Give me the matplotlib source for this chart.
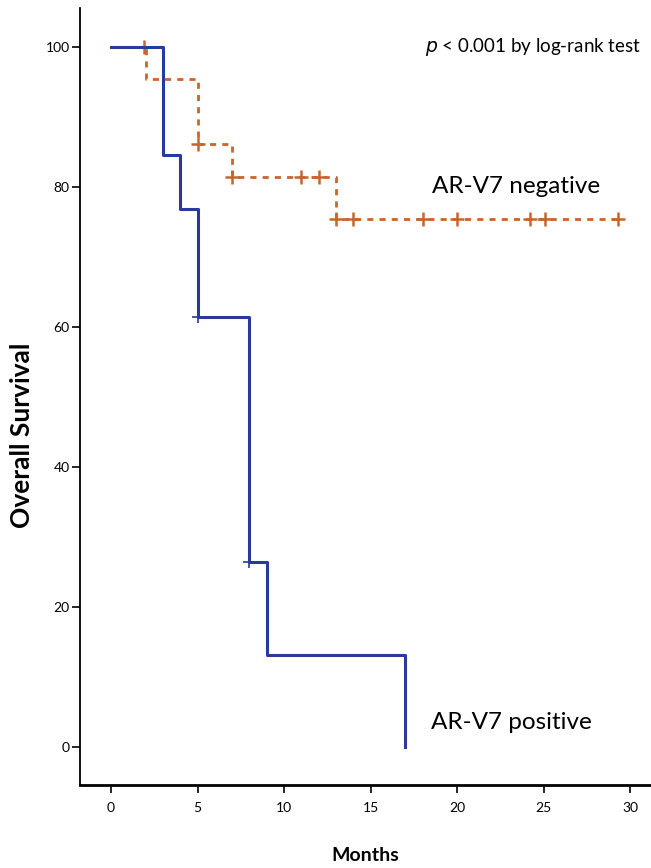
import matplotlib
matplotlib.use('Agg')
import matplotlib.pyplot as plt

plt.rcParams['font.family'] = ['Lato', 'DejaVu Sans']

# AR-V7 positive (Kaplan-Meier steps)
pos_t = [0, 3, 4, 5, 8, 9, 17]
pos_s = [100, 84.6, 76.9, 61.5, 26.4, 13.2, 0]
pos_cens_t = [5, 8]
pos_cens_s = [61.5, 26.4]

# AR-V7 negative
neg_t = [0, 2, 5, 7, 13, 29.3]
neg_s = [100, 95.5, 86.2, 81.4, 75.4, 75.4]
neg_cens_t = [1.9, 5, 7, 11, 12, 13, 14, 18, 20, 24.2, 25.1, 29.3]
neg_cens_s = [100, 86.2, 81.4, 81.4, 81.4, 75.4, 75.4, 75.4, 75.4, 75.4, 75.4, 75.4]

xticks = [0, 5, 10, 15, 20, 25, 30]
yticks = [0, 20, 40, 60, 80, 100]

blue = '#2a3a9c'
orange = '#c8652e'

fig = plt.figure(figsize=(6.51, 8.68), dpi=100)
ax = fig.add_axes([0.123, 0.0956, 0.877, 0.8954])

ax.plot(neg_t, neg_s, drawstyle='steps-post', color=orange, lw=2.0,
        linestyle=(0, (2.2, 2.2)))
ax.plot(neg_cens_t, neg_cens_s, '+', color=orange, ms=10, mew=1.8)
ax.plot(pos_t, pos_s, drawstyle='steps-post', color=blue, lw=2.2)
ax.plot(pos_cens_t, pos_cens_s, '+', color=blue, ms=9, mew=1.2)

ax.set_xlim(-1.79, 31.2)
ax.set_ylim(-5.4, 105.6)
ax.set_xticks(xticks)
ax.set_yticks(yticks)
ax.tick_params(axis='both', direction='out', length=6, width=1.2, labelsize=10)
ax.tick_params(axis='x', pad=6)
ax.tick_params(axis='y', pad=1.5)
for s in ['top', 'right']:
    ax.spines[s].set_visible(False)
ax.spines['left'].set_linewidth(1.3)
ax.spines['bottom'].set_linewidth(2.0)

ax.set_xlabel('Months', fontsize=14, fontweight='bold', labelpad=24)
ax.set_ylabel('Overall Survival', fontsize=19, fontweight='bold')
ax.yaxis.set_label_coords(-0.08, 0.45)

ax.text(30.6, 100, r'$p$ < 0.001 by log-rank test', fontsize=13.5, ha='right', va='center')
ax.text(23.4, 80.1, 'AR-V7 negative', fontsize=17.5, ha='center', va='center')
ax.text(18.5, 3.6, 'AR-V7 positive', fontsize=17.5, ha='left', va='center')

plt.savefig('out.png', dpi=100)
